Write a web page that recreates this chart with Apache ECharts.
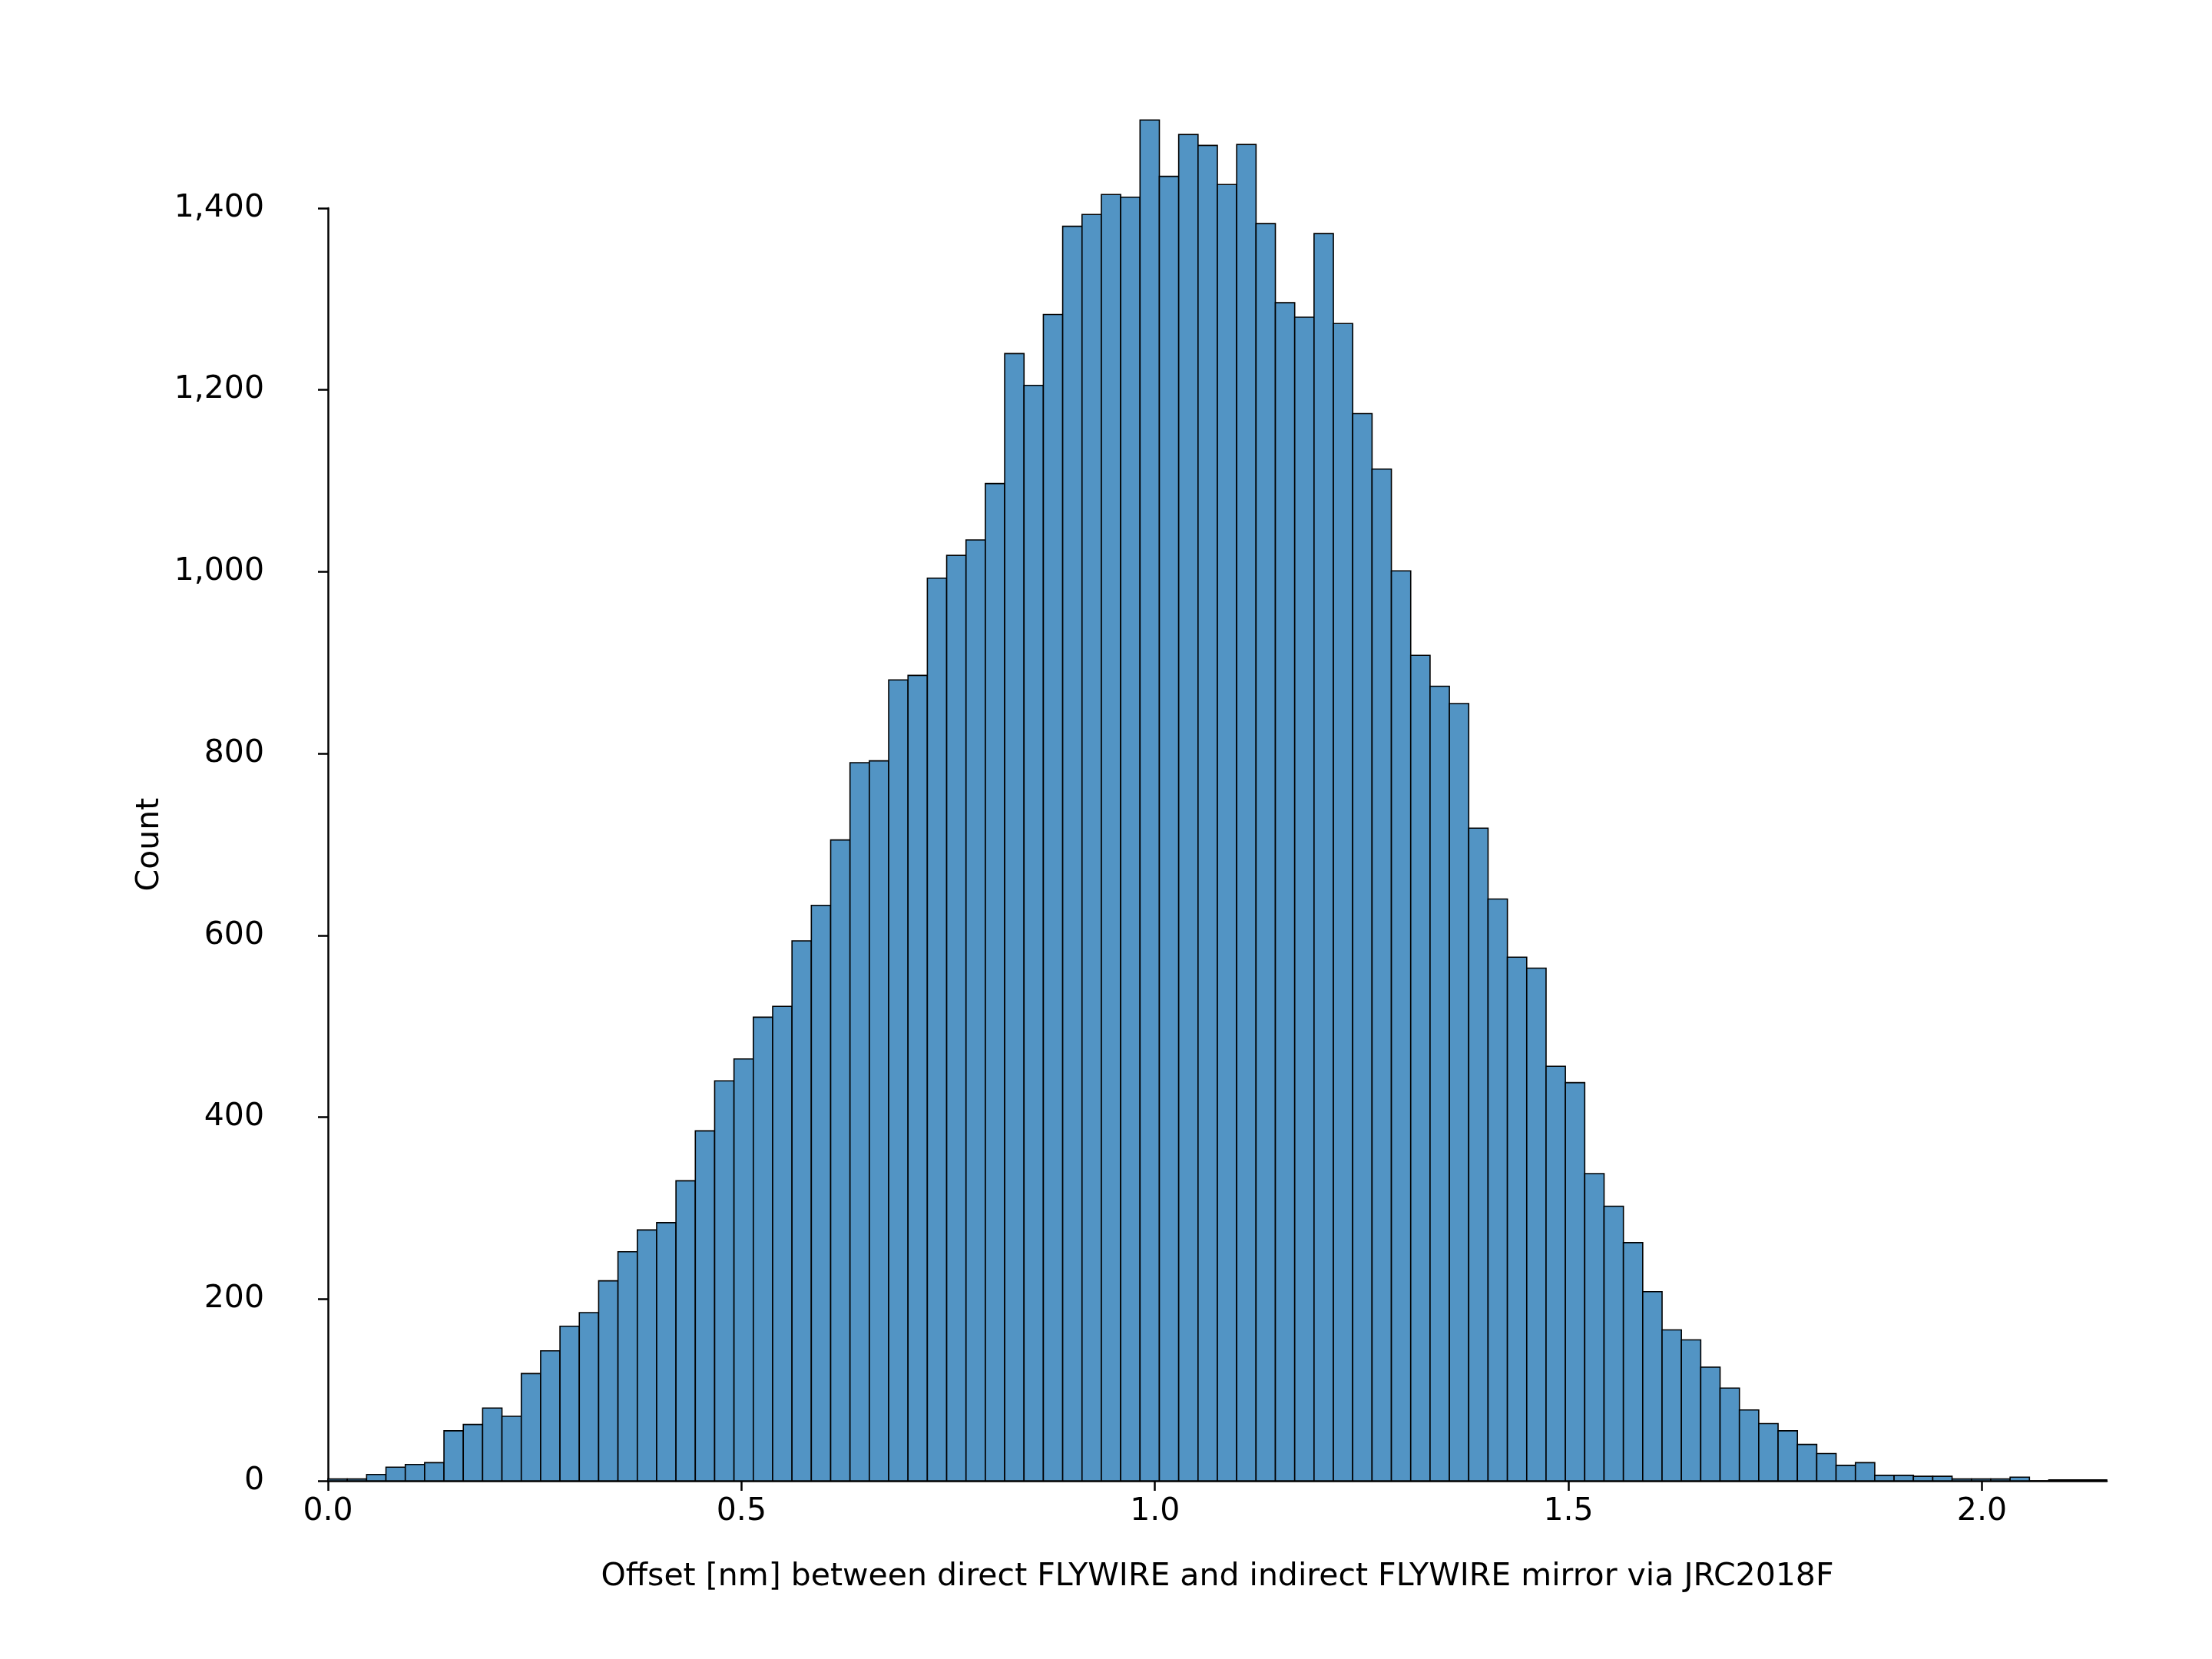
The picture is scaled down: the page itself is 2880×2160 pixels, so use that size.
<!DOCTYPE html>
<html>
<head>
<meta charset="utf-8">
<script src="https://cdn.jsdelivr.net/npm/echarts@6/dist/echarts.min.js"></script>
<style>html,body{margin:0;padding:0;background:#fff}#chart{width:2880px;height:2160px}</style>
</head>
<body>
<div id="chart"></div>
<script>
// histogram bins: start at 0, equal width
const binStart = 0;
const binWidth = 0.02338;
const counts = [2, 2, 7, 15, 18, 20, 55, 62, 80, 71, 118, 143, 170, 185, 220, 252, 276, 284, 330, 385,
  440, 464, 510, 522, 594, 633, 705, 790, 792, 881, 886, 993, 1018, 1035, 1097, 1240, 1205, 1283, 1380, 1393,
  1415, 1412, 1497, 1435, 1481, 1469, 1426, 1470, 1383, 1296, 1280, 1372, 1273, 1174, 1113, 1001, 908, 874, 855, 718,
  640, 576, 564, 456, 438, 338, 302, 262, 208, 166, 155, 125, 102, 78, 63, 55, 40, 30, 17, 20,
  6, 6, 5, 5, 2, 2, 2, 4, 0, 1, 1, 1];
const xTicks = [0, 0.5, 1.0, 1.5, 2.0];

const data = counts.map((c, i) => [binStart + i * binWidth, binStart + (i + 1) * binWidth, c]);
const xMax = binStart + counts.length * binWidth;

const chart = echarts.init(document.getElementById('chart'));
const font = 'DejaVu Sans';
chart.setOption({
  animation: false,
  grid: { left: 427, right: 2880 - 2743, top: 271, bottom: 232 },
  xAxis: {
    type: 'value', min: 0, max: xMax, interval: 0.5,
    name: 'Offset [nm] between direct FLYWIRE and indirect FLYWIRE mirror via JRC2018F',
    nameLocation: 'middle', nameGap: 105,
    nameTextStyle: { fontFamily: font, fontSize: 41, color: '#000' },
    axisLine: { lineStyle: { color: '#000', width: 2.5 } },
    axisTick: { length: 13, lineStyle: { color: '#000', width: 2.5 } },
    axisLabel: { fontFamily: font, fontSize: 41, color: '#000', margin: 20, showMaxLabel: false,
      formatter: v => xTicks.some(t => Math.abs(t - v) < 1e-6) ? v.toFixed(1) : '' },
    splitLine: { show: false }
  },
  yAxis: {
    type: 'value', min: 0, max: 1400, interval: 200, offset: 65,
    name: 'Count', nameLocation: 'middle', nameGap: 135,
    nameTextStyle: { fontFamily: font, fontSize: 41, color: '#000' },
    axisLine: { show: true, lineStyle: { color: '#000', width: 2.5 } },
    axisTick: { show: true, length: 13, lineStyle: { color: '#000', width: 2.5 } },
    axisLabel: { fontFamily: font, fontSize: 41, color: '#000', margin: 18 },
    splitLine: { show: false }
  },
  series: [{
    type: 'custom',
    clip: false,
    data: data,
    renderItem: (params, api) => {
      const p0 = api.coord([api.value(0), 0]);
      const p1 = api.coord([api.value(1), api.value(2)]);
      return {
        type: 'rect',
        shape: { x: p0[0], y: p1[1], width: p1[0] - p0[0], height: p0[1] - p1[1] },
        style: { fill: 'rgb(82,148,196)', stroke: '#000', lineWidth: 1.6 }
      };
    }
  }]
});
</script>
</body>
</html>
